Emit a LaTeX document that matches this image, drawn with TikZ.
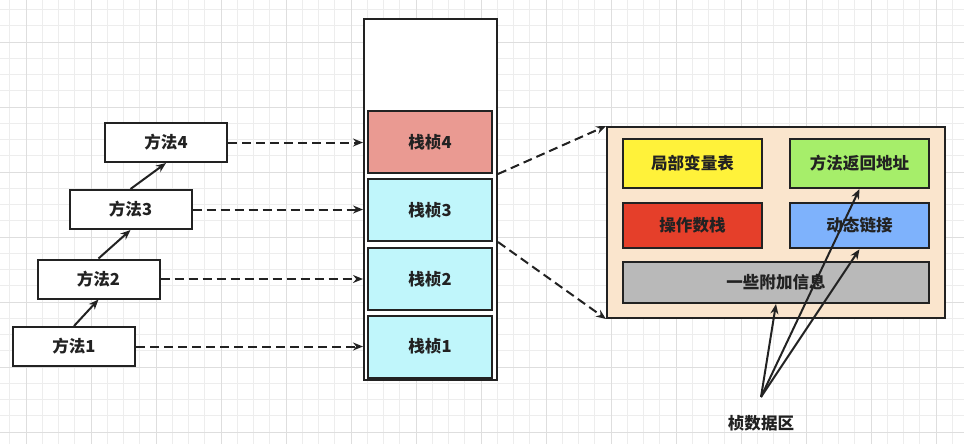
\documentclass[tikz,border=0pt]{standalone}
\usepackage{fontspec}
\setmainfont{Noto Sans CJK SC}
\usetikzlibrary{arrows.meta, positioning}
\definecolor{jvGridMinor}{HTML}{EDEDED}
\definecolor{jvGridMajor}{HTML}{DEDEDE}
\definecolor{jvInk}{HTML}{222222}
\definecolor{jvSalmon}{HTML}{EA9A92}
\definecolor{jvCyan}{HTML}{C0F6FB}
\definecolor{jvBisque}{HTML}{FAE5CD}
\definecolor{jvYellow}{HTML}{FFF23A}
\definecolor{jvGreen}{HTML}{A6EE6A}
\definecolor{jvRed}{HTML}{E53F2A}
\definecolor{jvBlue}{HTML}{7EB2FC}
\definecolor{jvGrey}{HTML}{B9B9B9}
\tikzset{
  gridminor/.style  = {jvGridMinor, line width=0.75pt},
  gridmajor/.style  = {jvGridMajor, line width=0.75pt},
  box/.style        = {draw=jvInk, line width=1.5pt, inner sep=0pt, text=jvInk,
                       font=\fontsize{12.4}{14}\selectfont\bfseries},
  method/.style     = {box, fill=white, minimum width=91.5pt, minimum height=29.25pt},
  frame/.style      = {box, fill=jvCyan, minimum width=93pt, minimum height=46.5pt},
  part/.style       = {box, minimum width=104.25pt, minimum height=#1},
  calls/.style      = {-{Stealth[length=7.5pt, width=6pt]}, line width=1.5pt, jvInk},
  link/.style       = {calls, dash pattern=on 6.75pt off 3.75pt},
}

\begin{document}
\begin{tikzpicture}[x=0.75pt,y=-0.75pt]
  \useasboundingbox (0,0) rectangle (964,444);
  % background grid
  \foreach \i in {-1,...,58} {
    \pgfmathsetmacro\gx{26+\i*16.25}
    \draw[gridminor] (\gx,0) -- (\gx,444);
  }
  \foreach \i in {-2,...,25} {
    \pgfmathsetmacro\gy{42+\i*16.25}
    \draw[gridminor] (0,\gy) -- (964,\gy);
  }
  \foreach \i in {0,4,...,56} {
    \pgfmathsetmacro\gx{26+\i*16.25}
    \draw[gridmajor] (\gx,0) -- (\gx,444);
  }
  \foreach \i in {0,4,...,24} {
    \pgfmathsetmacro\gy{42+\i*16.25}
    \draw[gridmajor] (0,\gy) -- (964,\gy);
  }

  % methods
  \node[method] (m1) at (74,346.5)   {方法1};
  \node[method] (m2) at (98.5,279)   {方法2};
  \node[method] (m3) at (130.5,209.5) {方法3};
  \node[method] (m4) at (166,142.5)  {方法4};
  \draw[calls] (m1.north) -- (m2.south);
  \draw[calls] (m2.north) -- (m3.south);
  \draw[calls] (m3.north) -- (m4.south);

  % stack with frames
  \node[box, fill=white, minimum width=99.75pt, minimum height=270.75pt] (stack) at (430.5,199.5) {};
  \node[frame] (f1) at (430,346.5) {栈桢1};
  \node[frame] (f2) at (430,279)   {栈桢2};
  \node[frame] (f3) at (430,210)   {栈桢3};
  \node[frame, fill=jvSalmon] (f4) at (430,142) {栈桢4};
  \foreach \m in {1,2,3,4}
    \draw[link] (m\m.east) -- (m\m.east -| stack.west);

  % frame contents
  \node[box, fill=jvBisque, minimum width=253.5pt, minimum height=143.25pt] (data) at (776,222.5) {};
  \node[part=36.75pt, fill=jvYellow] (locals)  at (692.5,163.5) {局部变量表};
  \node[part=36.75pt, fill=jvGreen]  (retaddr) at (859.5,163.5) {方法返回地址};
  \node[part=34.1pt,  fill=jvRed]    (opstack) at (692.5,225.5) {操作数栈};
  \node[part=34.1pt,  fill=jvBlue]   (dynlink) at (859.5,225.5) {动态链接};
  \node[part=30.75pt, fill=jvGrey, minimum width=229.5pt] (extra) at (776,282.5) {一些附加信息};
  \draw[link] (f4.south east -| stack.east) -- (data.north west);
  \draw[link] (f3.south east -| stack.east) -- (data.south west);

  % frame data label
  \node[box, draw=none, minimum height=37.5pt] (fdata) at (761,423) {桢数据区};
  \draw[calls] (fdata.north) -- (extra.south);
  \draw[calls] (fdata.north) -- (retaddr.south);
  \draw[calls] (fdata.north) -- (dynlink.south);
\end{tikzpicture}
\end{document}
